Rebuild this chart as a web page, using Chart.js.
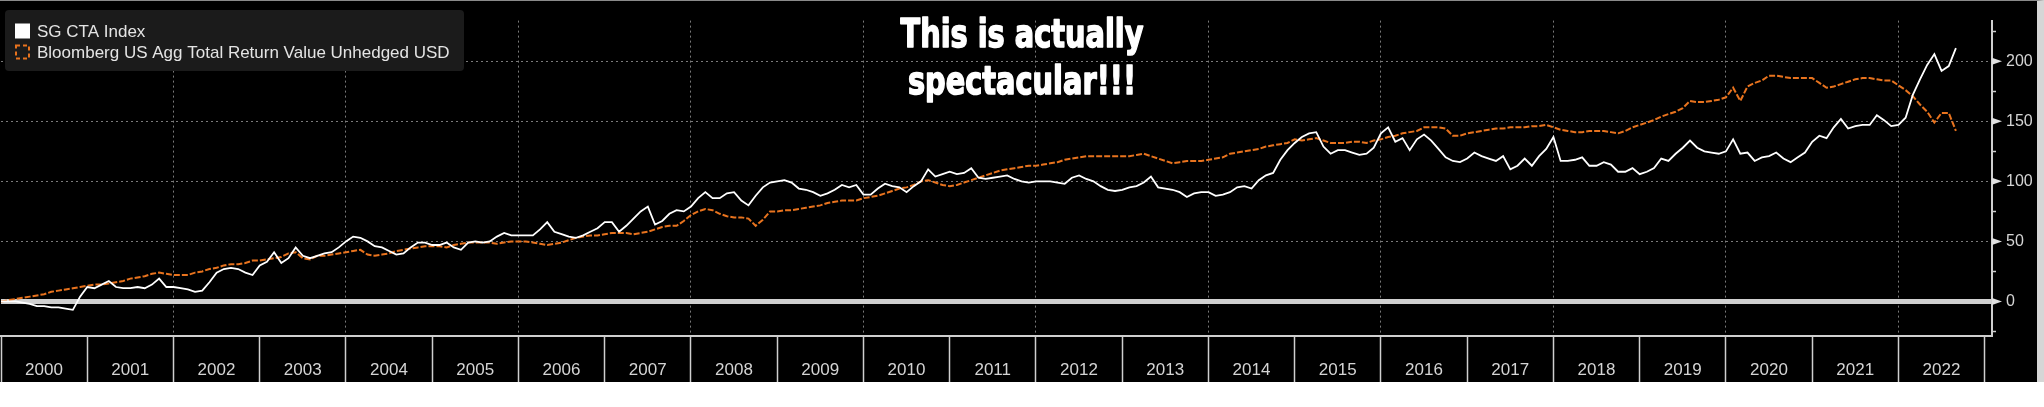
<!DOCTYPE html>
<html>
<head>
<meta charset="utf-8">
<script src="https://cdn.jsdelivr.net/npm/chart.js@4.4.0/dist/chart.umd.min.js"></script>
<style>
html,body{margin:0;padding:0;background:#fff;}
#wrap{position:relative;width:2037px;height:381px;background:#000;border-top:1px solid #8a8a8a;border-right:7px solid #d6d6d6;}
canvas{display:block;}
</style>
</head>
<body>
<div id="wrap"><canvas id="chart" width="2037" height="381"></canvas></div>
<script>

const startYear = 2000

const years = ['2000','2001','2002','2003','2004','2005','2006','2007','2008','2009','2010',
'2011','2012','2013','2014','2015','2016','2017','2018','2019','2020','2021','2022']

const majorTicks = [0,50,100,150,200]
const minorTicks = [-25,25,75,125,175,225]

const seriesNames = ['SG CTA Index','Bloomberg US Agg Total Return Value Unhedged USD']

const titleLines = ['This is actually','spectacular!!!']

// monthly, Jan 2000 .. Sep 2022
const sgCta = [
0,0,0,-1,-2,-4,-4,-5,-5,-6,-7,4,
12,11,14,17,12,11,11,12,11,14,19,12,
12,11,10,8,9,16,24,27,28,27,24,22,
30,33,41,32,36,45,38,36,38,40,41,45,
50,54,53,50,46,45,42,39,40,45,49,49,
47,47,49,45,43,49,50,49,50,54,57,55,
55,55,55,60,66,58,56,54,53,55,58,61,
66,66,58,63,69,75,79,64,67,73,76,75,
79,86,91,86,86,90,91,84,80,88,95,99,
100,101,99,94,93,91,88,90,93,97,95,97,
89,89,94,98,96,95,91,96,100,110,104,106,
108,106,107,111,103,102,103,104,105,102,100,99,
100,100,100,99,98,103,105,102,100,96,93,92,
93,95,96,99,104,95,94,93,91,87,90,91,
91,88,89,91,95,96,94,101,105,107,118,126,
132,137,140,141,129,123,126,126,124,122,123,128,
140,145,133,136,126,135,139,134,127,120,117,116,
119,124,121,119,117,121,110,113,119,113,121,127,
137,117,117,118,120,113,113,116,114,108,108,111,
106,108,111,119,117,123,128,134,128,125,124,123,
125,135,123,124,117,120,121,124,119,116,120,124,
133,138,136,145,152,144,146,147,147,155,151,146,
147,153,172,185,197,206,192,196,211
]

const aggTR = [
0,1,2,3,4,5,6,8,9,10,11,12,
13,14,14,15,16,17,19,20,21,23,24,23,
22,22,22,24,25,27,28,30,31,31,32,34,
34,35,36,37,40,41,36,35,38,38,39,40,
41,42,43,39,38,39,40,42,43,44,45,46,
46,46,45,47,48,49,49,49,49,48,49,50,
50,50,49,48,47,48,49,51,53,54,55,55,
56,57,57,57,56,57,58,60,62,63,63,67,
72,75,77,76,73,71,70,70,69,63,68,75,
75,76,76,77,78,79,80,82,83,84,84,84,
86,87,88,90,92,94,95,97,100,101,99,97,
96,97,99,101,103,105,107,109,110,111,112,113,
113,114,115,116,118,119,120,121,121,121,121,121,
121,121,122,123,121,119,117,115,116,117,117,117,
118,119,120,123,124,125,126,127,129,130,131,132,
135,134,135,136,134,132,132,132,133,133,132,134,
135,137,138,140,141,142,145,145,145,144,138,138,
140,141,142,143,144,144,145,145,145,146,146,147,
145,143,142,141,141,142,142,142,141,140,142,145,
147,149,151,154,156,158,161,167,166,166,167,168,
170,178,167,179,182,184,188,188,187,186,186,186,
186,182,178,179,181,183,185,186,186,185,184,184,
180,176,171,164,158,149,157,157,142
]

const months = sgCta.map((v,i)=>startYear + i/12)

const FONT = '"Liberation Sans", Arial, sans-serif'

const isMajor = v => majorTicks.includes(v)

// legend box sitting inside the plot, top left
const legendBox = {
id:'legendBox',
afterDraw(chart){
const ctx = chart.ctx
ctx.save()
ctx.fillStyle = '#1b1b1b'
ctx.beginPath()
ctx.roundRect(5,9,459,61,4)
ctx.fill()
ctx.font = '17px ' + FONT
ctx.textBaseline = 'middle'
chart.data.datasets.forEach((ds,i)=>{
let cy = 30 + i*21
if(i===0){
ctx.fillStyle = ds.borderColor
ctx.fillRect(15,cy-7.5,15,15)
}else{
ctx.strokeStyle = ds.borderColor
ctx.lineWidth = 2
ctx.setLineDash([4,3])
ctx.strokeRect(16,cy-6.5,13,13)
ctx.setLineDash([])
}
ctx.fillStyle = '#e4e4e4'
ctx.fillText(ds.label,37,cy+1)
})
ctx.restore()
}
}

// big condensed annotation text (no Impact here, so squeeze a bold face)
const bigTitle = {
id:'bigTitle',
afterDraw(chart){
const ctx = chart.ctx
ctx.save()
ctx.font = 'bold 39px "DejaVu Sans", sans-serif'
let w = ctx.measureText(titleLines[0]).width
ctx.translate(1022,0)
ctx.scale(243/w,1)
ctx.fillStyle = '#ffffff'
ctx.strokeStyle = '#ffffff'
ctx.lineWidth = 1.6
ctx.lineJoin = 'round'
ctx.textAlign = 'center'
ctx.textBaseline = 'alphabetic'
ctx.fillText(titleLines[0],0,46)
ctx.strokeText(titleLines[0],0,46)
ctx.fillText(titleLines[1],0,93)
ctx.strokeText(titleLines[1],0,93)
ctx.restore()
}
}

// little flags at the major y ticks
const yFlags = {
id:'yFlags',
afterDraw(chart){
const s = chart.scales.y
const ctx = chart.ctx
ctx.save()
ctx.fillStyle = '#e0e0e0'
majorTicks.forEach(v=>{
let py = s.getPixelForValue(v)
ctx.beginPath()
ctx.moveTo(s.left,py-3.5)
ctx.lineTo(s.left+10,py)
ctx.lineTo(s.left,py+3.5)
ctx.closePath()
ctx.fill()
})
ctx.restore()
}
}

Chart.defaults.font.family = FONT

new Chart(document.getElementById('chart'),{
type:'line',
data:{
datasets:[
{
label:seriesNames[0],
data:sgCta.map((v,i)=>({x:months[i],y:v})),
borderColor:'#ffffff',
backgroundColor:'#ffffff',
borderWidth:1.8,
pointRadius:0,
tension:0
},
{
label:seriesNames[1],
data:aggTR.map((v,i)=>({x:months[i],y:v})),
borderColor:'#e8731e',
backgroundColor:'rgba(0,0,0,0)',
borderWidth:2,
borderDash:[6,2],
pointRadius:0,
tension:0
}
]
},
options:{
responsive:false,
animation:false,
layout:{padding:{left:1,top:4,right:0,bottom:0}},
plugins:{legend:{display:false},tooltip:{enabled:false}},
scales:{
x:{
type:'linear',
min:2000,
max:2023.085,
afterBuildTicks:s=>{ s.ticks = years.concat(['']).map((y,i)=>({value:startYear+i})) },
afterFit:s=>{ s.height = 46 },
ticks:{
color:'#d4d4d4',
font:{size:17},
autoSkip:false,
maxRotation:0,
labelOffset:43,
padding:-22,
callback:(v,i)=>years[i] || ''
},
grid:{
color:c=>(c.tick && c.tick.value>startYear && (c.tick.value-startYear)%2===0) ? '#7a7a7a' : 'rgba(0,0,0,0)',
lineWidth:1,
tickColor:'#cfcfcf',
tickWidth:1.5,
tickLength:46
},
border:{color:'#cfcfcf',width:2,dash:c=>c.tick ? [2,3] : []}
},
y:{
position:'right',
min:-28.8,
max:233.9,
afterBuildTicks:s=>{ s.ticks = minorTicks.concat(majorTicks).sort((a,b)=>a-b).map(v=>({value:v})) },
afterFit:s=>{ s.width = 45 },
ticks:{
color:'#d4d4d4',
font:{size:16},
padding:10,
callback:v=>isMajor(v) ? String(v) : ''
},
grid:{
color:c=>!c.tick ? '#cfcfcf' : c.tick.value===0 ? '#d0d0d0' : isMajor(c.tick.value) ? '#7a7a7a' : 'rgba(0,0,0,0)',
lineWidth:c=>(c.tick && c.tick.value===0) ? 5 : 1,
tickColor:c=>(c.tick && isMajor(c.tick.value)) ? 'rgba(0,0,0,0)' : '#cfcfcf',
tickWidth:1.5,
tickLength:4
},
border:{color:'#cfcfcf',width:2,dash:c=>(c.tick && c.tick.value!==0) ? [2,3] : []}
}
}
},
plugins:[legendBox,bigTitle,yFlags]
})

</script>
</body>
</html>
